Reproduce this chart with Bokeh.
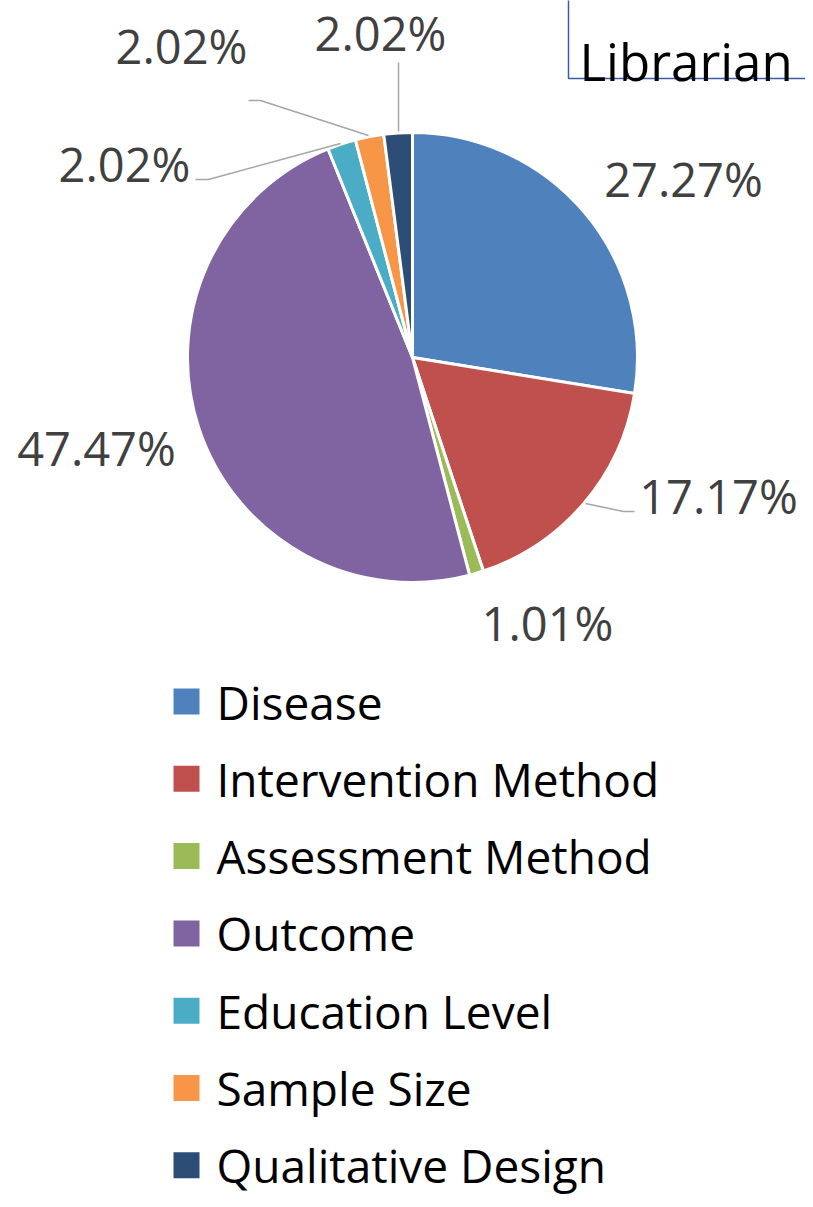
import numpy as np
from bokeh.plotting import figure
from bokeh.models import Range1d, ColumnDataSource
from bokeh.core.properties import value
from bokeh.embed import file_html
from bokeh.resources import INLINE

categories = ["Disease", "Intervention Method", "Assessment Method", "Outcome",
              "Education Level", "Sample Size", "Qualitative Design"]
percents = [27.27, 17.17, 1.01, 47.47, 2.02, 2.02, 2.02]
colors = ["#4F81BD", "#C0504D", "#9BBB59", "#8064A2", "#4BACC6", "#F79646", "#2C4D75"]
title_text = "Librarian"

W, H = 805, 1199
FONT = "Open Sans"


def Y(py):
    # page pixel y -> data y (data y goes up)
    return 1207 - py


p = figure(width=W, height=H, output_backend="svg", toolbar_location=None,
           x_range=Range1d(0, 805), y_range=Range1d(8, 1207), min_border=0)
p.axis.visible = False
p.grid.visible = False
p.outline_line_color = None
p.background_fill_color = "white"
p.border_fill_color = "white"

# pie
cx, cy, r = 412, Y(357), 225
fr = np.array(percents) / sum(percents)
cum = np.concatenate([[0], np.cumsum(fr)])
starts = np.pi / 2 - 2 * np.pi * cum[:-1]
ends = np.pi / 2 - 2 * np.pi * cum[1:]
src = ColumnDataSource(dict(start=starts, end=ends, color=colors))
p.wedge(x=cx, y=cy, radius=r, start_angle="start", end_angle="end",
        direction="clock", fill_color="color", line_color="white",
        line_width=3, source=src)

# labels (page pixel centers)
label_pos = [(683, 178), (718, 495), (547, 622), (96, 447),
             (124, 163), (181, 45), (380, 32)]
lx = [a for a, b in label_pos]
ly = [Y(b) for a, b in label_pos]
ltxt = ["%.2f%%" % v for v in percents]
p.text(x=lx, y=ly, text=ltxt, text_align="center", text_baseline="middle",
       text_font=value(FONT), text_font_size="47px", text_color="#404040")

# leader lines
leaders = [
    [(585, 503), (623, 511), (634, 511)],
    [(340, 143), (208, 179), (195, 179)],
    [(368, 135), (260, 100), (248, 100)],
    [(398, 131), (398, 62)],
]
p.multi_line(xs=[[a for a, b in L] for L in leaders],
             ys=[[Y(b) for a, b in L] for L in leaders],
             line_color="#A6A6A6", line_width=1.5)

# title box (partially off the page)
p.quad(left=568, right=830, top=Y(-20), bottom=Y(78), fill_color="white",
       line_color="#3B5BA5", line_width=1.5)
p.text(x=[579], y=[Y(60)], text=[title_text], text_align="left",
       text_baseline="alphabetic", text_font=value(FONT), text_font_size="51px",
       text_color="black")

# legend
ys = [701 + 77.3 * i for i in range(len(categories))]
p.rect(x=[186] * len(categories), y=[Y(v) for v in ys], width=26, height=26,
       fill_color=colors, line_color=None)
p.text(x=[216] * len(categories), y=[Y(v) for v in ys], text=categories,
       text_align="left", text_baseline="middle", text_font=value(FONT),
       text_font_size="46px", text_color="black")

open("out.html", "w").write(file_html(p, INLINE))
